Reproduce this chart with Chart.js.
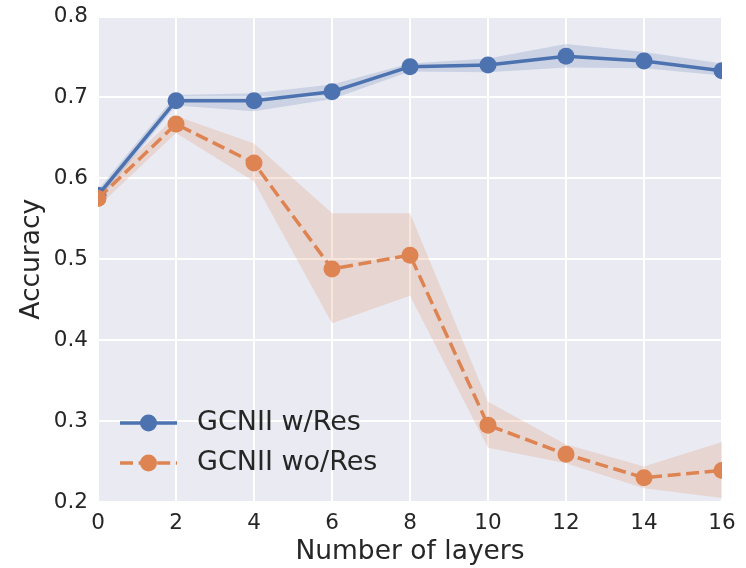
<!DOCTYPE html>
<html>
<head>
<meta charset="utf-8">
<script src="https://cdn.jsdelivr.net/npm/chart.js@4.4.1/dist/chart.umd.min.js"></script>
<style>
  html, body { margin: 0; padding: 0; background: #ffffff; }
  #wrap { position: absolute; left: 0; top: 0; width: 746px; height: 568px; }
</style>
</head>
<body>
<div id="wrap"><canvas id="myChart" width="746" height="568"></canvas></div>
<script>
// layers on the x axis
const layers = [0, 2, 4, 6, 8, 10, 12, 14, 16];

// GCNII w/Res : mean and band
const withRes = [0.579, 0.696, 0.696, 0.707, 0.738, 0.740, 0.751, 0.745, 0.733];
const withResHi = [0.586, 0.703, 0.705, 0.716, 0.742, 0.748, 0.766, 0.756, 0.742];
const withResLo = [0.572, 0.690, 0.683, 0.698, 0.732, 0.731, 0.737, 0.736, 0.727];

// GCNII wo/Res : mean and band
const withoutRes = [0.575, 0.667, 0.619, 0.488, 0.505, 0.295, 0.259, 0.230, 0.239];
const withoutResHi = [0.585, 0.677, 0.643, 0.557, 0.557, 0.324, 0.271, 0.244, 0.274];
const withoutResLo = [0.565, 0.656, 0.596, 0.421, 0.455, 0.267, 0.248, 0.217, 0.205];

const yTicks = [0.2, 0.3, 0.4, 0.5, 0.6, 0.7, 0.8];
const seriesNames = ['GCNII w/Res', 'GCNII wo/Res'];

const blue = '#4c72b0';
const orange = '#dd8452';
const txt = '#262626';
const FONT = "'DejaVu Sans', sans-serif";

const pts = arr => arr.map((v, i) => ({x: layers[i], y: v}));

const plotBg = {
  id: 'plotBg',
  beforeDraw(chart) {
    const a = chart.chartArea, c = chart.ctx;
    c.save();
    c.fillStyle = '#eaeaf2';
    c.fillRect(a.left, a.top, a.right - a.left, a.bottom - a.top);
    c.restore();
  }
};

// legend inside the plot, lower left, line + marker like matplotlib
const innerLegend = {
  id: 'innerLegend',
  afterDraw(chart) {
    const c = chart.ctx;
    const items = [
      {name: seriesNames[0], color: blue, dash: []},
      {name: seriesNames[1], color: orange, dash: [13, 5.6]}
    ];
    c.save();
    items.forEach((it, i) => {
      const y = 423 + i * 40;
      c.strokeStyle = it.color;
      c.lineWidth = 3.5;
      c.setLineDash(it.dash);
      c.beginPath();
      c.moveTo(120, y);
      c.lineTo(177, y);
      c.stroke();
      c.setLineDash([]);
      c.fillStyle = it.color;
      c.beginPath();
      c.arc(148.5, y, 8.5, 0, Math.PI * 2);
      c.fill();
      c.fillStyle = txt;
      c.font = '27px ' + FONT;
      c.textBaseline = 'middle';
      c.textAlign = 'left';
      c.fillText(it.name, 197, y);
    });
    c.restore();
  }
};

const band = (hi, lo, color, ord) => ([
  {data: pts(hi), borderWidth: 0, pointRadius: 0, fill: '+1', backgroundColor: color, order: ord, tension: 0},
  {data: pts(lo), borderWidth: 0, pointRadius: 0, fill: false, order: ord, tension: 0}
]);

const ctx = document.getElementById('myChart');
const chart = new Chart(ctx, {
  type: 'line',
  data: {
    datasets: [
      ...band(withResHi, withResLo, 'rgba(76,114,176,0.2)', 4),
      ...band(withoutResHi, withoutResLo, 'rgba(221,132,82,0.2)', 3),
      {
        label: seriesNames[0], data: pts(withRes), borderColor: blue, backgroundColor: blue,
        borderWidth: 3.5, pointRadius: 8.5, pointHoverRadius: 8.5, pointBorderWidth: 0, fill: false, order: 2
      },
      {
        label: seriesNames[1], data: pts(withoutRes), borderColor: orange, backgroundColor: orange,
        borderWidth: 3.5, borderDash: [13, 5.6], pointRadius: 8.5, pointHoverRadius: 8.5, pointBorderWidth: 0, fill: false, order: 1
      }
    ]
  },
  options: {
    responsive: false,
    animation: false,
    events: [],
    layout: { padding: { top: 16.5, right: 24, left: 0, bottom: 0 } },
    plugins: { legend: { display: false }, tooltip: { enabled: false } },
    scales: {
      x: {
        type: 'linear', min: 0, max: 16,
        border: { display: false },
        grid: { color: '#ffffff', lineWidth: 2, drawTicks: false },
        ticks: { stepSize: 2, padding: 9, color: txt, font: { family: FONT, size: 21.5 } },
        title: { display: true, text: 'Number of layers', color: txt, font: { family: FONT, size: 26.5 }, padding: { top: 0, bottom: 0 } },
        afterFit: s => { s.height = 66; s.paddingLeft = 0; s.paddingRight = 0; }
      },
      y: {
        type: 'linear', min: 0.2, max: 0.8,
        border: { display: false },
        grid: { color: '#ffffff', lineWidth: 2, drawTicks: false },
        afterBuildTicks: s => { s.ticks = yTicks.map(v => ({value: v})); },
        ticks: { padding: 10, color: txt, font: { family: FONT, size: 21.5 }, callback: v => v.toFixed(1) },
        title: { display: true, text: 'Accuracy', color: txt, font: { family: FONT, size: 26.5 }, padding: { top: 16, bottom: 0 } },
        afterFit: s => { s.width = 98; s.paddingTop = 0; s.paddingBottom = 0; }
      }
    }
  },
  plugins: [plotBg, innerLegend]
});
</script>
</body>
</html>
